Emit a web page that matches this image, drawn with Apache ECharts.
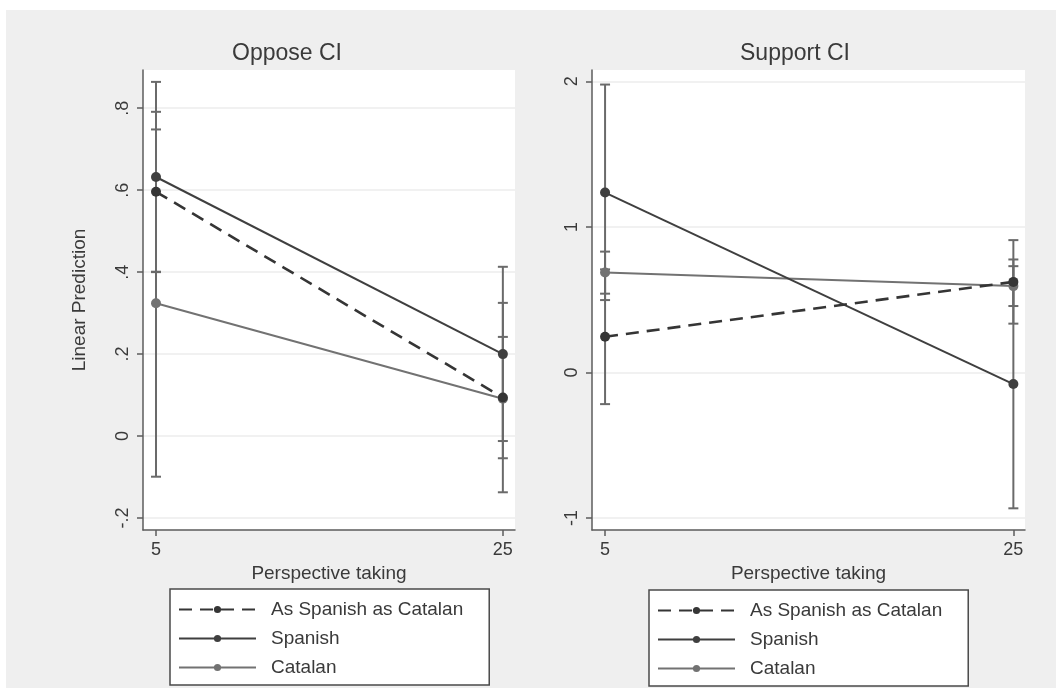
<!DOCTYPE html>
<html>
<head>
<meta charset="utf-8">
<script src="https://cdn.jsdelivr.net/npm/echarts@6/dist/echarts.min.js"></script>
<style>
html,body{margin:0;padding:0;background:#ffffff;}
#chart{width:1056px;height:688px;}
</style>
</head>
<body>
<div id="chart"></div>
<script>
// ---- data ----
var perspective = [5, 25];
var seriesNames = ['As Spanish as Catalan', 'Spanish', 'Catalan'];
var panelTitles = ['Oppose CI', 'Support CI'];

var opposeASC = [0.596, 0.094];
var opposeASCLow = [0.401, -0.054];
var opposeASCHigh = [0.791, 0.242];
var opposeSpanish = [0.632, 0.200];
var opposeSpanishLow = [0.400, -0.012];
var opposeSpanishHigh = [0.864, 0.413];
var opposeCatalan = [0.324, 0.091];
var opposeCatalanLow = [-0.099, -0.137];
var opposeCatalanHigh = [0.748, 0.325];

var supportASC = [0.245, 0.622];
var supportASCLow = [-0.218, 0.335];
var supportASCHigh = [0.708, 0.909];
var supportSpanish = [1.236, -0.080];
var supportSpanishLow = [0.497, -0.934];
var supportSpanishHigh = [1.978, 0.776];
var supportCatalan = [0.687, 0.593];
var supportCatalanLow = [0.541, 0.456];
var supportCatalanHigh = [0.830, 0.730];

var xTicks = [5, 25];
var opposeYTicks = [-0.2, 0, 0.2, 0.4, 0.6, 0.8];
var supportYTicks = [-1, 0, 1, 2];

// ---- helpers ----
var FONT = '"Liberation Sans", Arial, sans-serif';
var TXT = '#3a3a3a';
var AXC = '#5c5c5c';
var styles = [
  {color: '#353535', type: [13, 8], width: 2.6},
  {color: '#3f3f3f', type: 'solid', width: 2},
  {color: '#727272', type: 'solid', width: 2}
];

function pairs(ys) { return perspective.map(function (x, i) { return [x, ys[i]]; }); }
function triples(lo, hi) { return perspective.map(function (x, i) { return [x, lo[i], hi[i]]; }); }
function fmtY(v) {
  if (v === 0) return '0';
  var s = String(Math.abs(v)).replace(/^0\./, '.');
  return (v < 0 ? '-' : '') + s;
}

function errSeries(idx, lo, hi) {
  return {
    type: 'custom', xAxisIndex: idx, yAxisIndex: idx, z: 1, silent: true,
    data: triples(lo, hi),
    encode: {x: 0, y: [1, 2]},
    renderItem: function (params, api) {
      var x = api.value(0);
      var p1 = api.coord([x, api.value(1)]);
      var p2 = api.coord([x, api.value(2)]);
      var hw = 5;
      var st = {stroke: '#6a6a6a', lineWidth: 2};
      return {type: 'group', children: [
        {type: 'line', shape: {x1: p1[0], y1: p1[1], x2: p2[0], y2: p2[1]}, style: st},
        {type: 'line', shape: {x1: p1[0] - hw, y1: p1[1], x2: p1[0] + hw, y2: p1[1]}, style: st},
        {type: 'line', shape: {x1: p2[0] - hw, y1: p2[1], x2: p2[0] + hw, y2: p2[1]}, style: st}
      ]};
    }
  };
}
function lineSeries(idx, k, ys) {
  var s = styles[k];
  return {
    name: seriesNames[k], type: 'line', xAxisIndex: idx, yAxisIndex: idx, z: 3,
    data: pairs(ys), symbol: 'circle', symbolSize: 10, showSymbol: true,
    lineStyle: {color: s.color, type: s.type, width: s.width},
    itemStyle: {color: s.color},
    emphasis: {disabled: true}, animation: false
  };
}
function xAxisCfg(idx, min, max) {
  return {
    type: 'value', gridIndex: idx, min: min, max: max,
    name: 'Perspective taking', nameLocation: 'middle', nameGap: 30,
    nameTextStyle: {fontFamily: FONT, fontSize: 19, color: TXT},
    axisLine: {show: true, onZero: false, lineStyle: {color: AXC, width: 1.5}},
    axisTick: {show: true, length: 6, customValues: xTicks, lineStyle: {color: AXC, width: 1.5}},
    axisLabel: {customValues: xTicks, fontFamily: FONT, fontSize: 18, color: TXT, margin: 11},
    splitLine: {show: false}
  };
}
function yAxisCfg(idx, min, max, ticks, name) {
  var c = {
    type: 'value', gridIndex: idx, min: min, max: max,
    axisLine: {show: true, onZero: false, lineStyle: {color: AXC, width: 1.5}},
    axisTick: {show: true, length: 6, customValues: ticks, lineStyle: {color: AXC, width: 1.5}},
    axisLabel: {customValues: ticks, rotate: 90, fontFamily: FONT, fontSize: 18, color: TXT, margin: 11, formatter: fmtY},
    splitLine: {show: true, lineStyle: {color: '#ececec', width: 1.5}}
  };
  if (name) {
    c.name = name; c.nameLocation = 'middle'; c.nameGap = 54;
    c.nameTextStyle = {fontFamily: FONT, fontSize: 19, color: TXT};
  }
  return c;
}
function legendCfg(left, top) {
  return {
    orient: 'vertical', left: left, top: top,
    data: seriesNames,
    itemWidth: 77, itemHeight: 9, itemGap: 10,
    padding: [11, 26, 8, 8],
    backgroundColor: '#ffffff', borderColor: '#4a4a4a', borderWidth: 1.5, borderRadius: 0,
    textStyle: {fontFamily: FONT, fontSize: 19, color: TXT, padding: [0, 0, 0, 10]},
    selectedMode: false
  };
}

var option = {
  animation: false,
  backgroundColor: '#ffffff',
  graphic: [{type: 'rect', z: -10, silent: true, shape: {x: 6, y: 10, width: 1050, height: 678}, style: {fill: '#efefef'}}],
  title: [
    {text: panelTitles[0], left: 282, top: 37, textAlign: 'center', textStyle: {fontFamily: FONT, fontSize: 23, fontWeight: 'normal', color: TXT}},
    {text: panelTitles[1], left: 790, top: 37, textAlign: 'center', textStyle: {fontFamily: FONT, fontSize: 23, fontWeight: 'normal', color: TXT}}
  ],
  grid: [
    {left: 143, top: 70, width: 372, height: 460, show: true, backgroundColor: '#ffffff', borderWidth: 0},
    {left: 592, top: 70, width: 433, height: 460, show: true, backgroundColor: '#ffffff', borderWidth: 0}
  ],
  xAxis: [xAxisCfg(0, 4.25, 25.7), xAxisCfg(1, 4.36, 25.57)],
  yAxis: [yAxisCfg(0, -0.229, 0.893, opposeYTicks, 'Linear Prediction'), yAxisCfg(1, -1.083, 2.078, supportYTicks, null)],
  legend: [legendCfg(170, 589), legendCfg(649, 590)],
  series: [
    errSeries(0, opposeASCLow, opposeASCHigh),
    errSeries(0, opposeSpanishLow, opposeSpanishHigh),
    errSeries(0, opposeCatalanLow, opposeCatalanHigh),
    lineSeries(0, 2, opposeCatalan),
    lineSeries(0, 1, opposeSpanish),
    lineSeries(0, 0, opposeASC),
    errSeries(1, supportASCLow, supportASCHigh),
    errSeries(1, supportSpanishLow, supportSpanishHigh),
    errSeries(1, supportCatalanLow, supportCatalanHigh),
    lineSeries(1, 2, supportCatalan),
    lineSeries(1, 1, supportSpanish),
    lineSeries(1, 0, supportASC)
  ]
};
var chart = echarts.init(document.getElementById('chart'), null, {renderer: 'canvas'});
chart.setOption(option);
</script>
</body>
</html>
